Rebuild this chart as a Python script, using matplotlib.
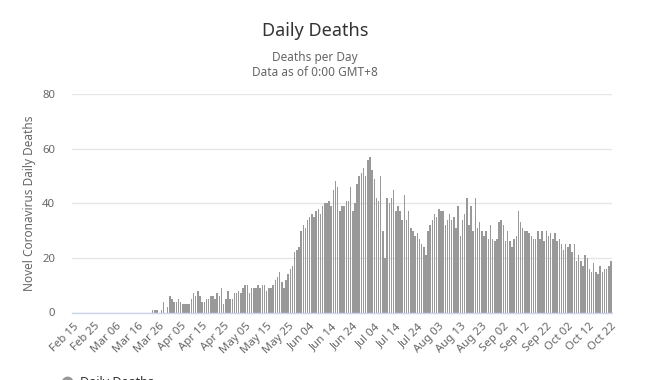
import matplotlib
matplotlib.use("Agg")
import matplotlib.pyplot as plt
import numpy as np

# ---- data ----
tick_labels = ["Feb 15", "Feb 25", "Mar 06", "Mar 16", "Mar 26", "Apr 05", "Apr 15",
               "Apr 25", "May 05", "May 15", "May 25", "Jun 04", "Jun 14", "Jun 24",
               "Jul 04", "Jul 14", "Jul 24", "Aug 03", "Aug 13", "Aug 23", "Sep 02",
               "Sep 12", "Sep 22", "Oct 02", "Oct 12", "Oct 22"]
tick_step = 10

daily_deaths = [
    # Feb 15 - Mar 22
    0, 0, 0, 0, 0, 0, 0, 0, 0, 0, 0, 0, 0, 0, 0, 0, 0, 0, 0, 0,
    0, 0, 0, 0, 0, 0, 0, 0, 0, 0, 0, 0, 0, 0, 0, 0, 0,
    # Mar 23 - May 4
    1, 1, 1, 0, 1, 4, 0, 2, 6, 5, 4, 4, 5, 4, 3, 3, 3, 3, 5, 7,
    6, 8, 6, 4, 4, 5, 5, 6, 6, 5, 7, 6, 9, 3, 5, 8, 5, 5, 7, 7,
    8, 7, 9,
    # May 5 - Jun 17
    10, 10, 7, 9, 9, 9, 10, 9, 10, 10, 8, 9, 9, 10, 12, 13, 15, 11, 9, 12,
    14, 16, 17, 22, 23, 24, 30, 32, 31, 34, 35, 36, 35, 37, 38, 36, 39, 40, 40, 41,
    39, 45, 48, 46,
    # Jun 18 - Jul 9
    37, 39, 39, 41, 41, 46, 37, 40, 47, 50, 51, 53, 50, 56, 57, 52, 49, 42, 41, 50,
    30, 20,
    # Jul 10 - Aug 3
    42, 40, 42, 45, 37, 39, 37, 34, 43, 34, 37, 31, 30, 28, 29, 27, 25, 24, 21, 30,
    32, 34, 36, 35, 38,
    # Aug 4 - Sep 17
    37, 37, 32, 34, 36, 34, 35, 31, 39, 28, 34, 36, 42, 32, 39, 30, 42, 31, 33, 30,
    28, 30, 27, 32, 27, 26, 27, 33, 34, 32, 26, 30, 26, 24, 27, 28, 37, 33, 31, 30,
    30, 29, 28, 27, 27,
    # Sep 18 - Oct 22
    30, 27, 30, 26, 30, 28, 29, 27, 29, 26, 27, 25, 23, 25, 24, 25, 22, 25, 19, 21,
    19, 17, 21, 20, 16, 15, 18, 15, 14, 17, 15, 16, 16, 17, 19,
]

title = "Daily Deaths"
subtitle = "Deaths per Day\nData as of 0:00 GMT+8"
ylabel = "Novel Coronavirus Daily Deaths"
legend_label = "Daily Deaths"

# ---- style ----
plt.rcParams['font.family'] = ['Noto Sans', 'DejaVu Sans']

W, H = 661, 380
fig = plt.figure(figsize=(W / 100, H / 100), dpi=100)
ax = fig.add_axes([72 / W, 1 - 312.5 / H, (612 - 72) / W, (312.5 - 94) / H])

x = np.arange(len(daily_deaths))
ax.bar(x, daily_deaths, width=0.7, color='#999999', linewidth=0, zorder=3)

ax.set_xlim(-0.5, len(daily_deaths) - 0.5)
ax.set_ylim(0, 80)
ax.set_yticks([0, 20, 40, 60, 80])
ax.yaxis.grid(True, color='#e6e6e6', linewidth=1, zorder=0)
ax.set_axisbelow(True)

ax.set_xticks(np.arange(0, len(daily_deaths), tick_step))
ax.set_xticklabels(tick_labels, rotation=45, ha='right', va='top',
                   rotation_mode='anchor', fontsize=8.2, color='#666666')
ax.tick_params(axis='x', length=0, pad=6)
ax.tick_params(axis='y', length=0, pad=12, labelsize=8.2, labelcolor='#666666')

for s in ['top', 'right', 'left']:
    ax.spines[s].set_visible(False)
ax.spines['bottom'].set_color('#ccd6eb')
ax.spines['bottom'].set_linewidth(1)
ax.spines['bottom'].set_zorder(4)

fig.text(315 / W, 1 - 31 / H, title, ha='center', va='center',
         fontsize=13, color='#333333')
fig.text(315 / W, 1 - 65 / H, subtitle, ha='center', va='center',
         fontsize=8.5, color='#666666', linespacing=1.15)
fig.text(30 / W, 1 - 203 / H, ylabel, rotation=90, ha='center', va='center',
         fontsize=8.5, color='#666666')

# legend (cut off at the bottom edge, as in the reference)
fig.text(67 / W, 1 - 382 / H, '\u25CF', ha='center', va='center',
         fontsize=11, color='#999999')
fig.text(80 / W, 1 - 383 / H, legend_label, ha='left', va='center',
         fontsize=9, color='#333333', fontweight='bold')

fig.savefig('out.png', dpi=100)
